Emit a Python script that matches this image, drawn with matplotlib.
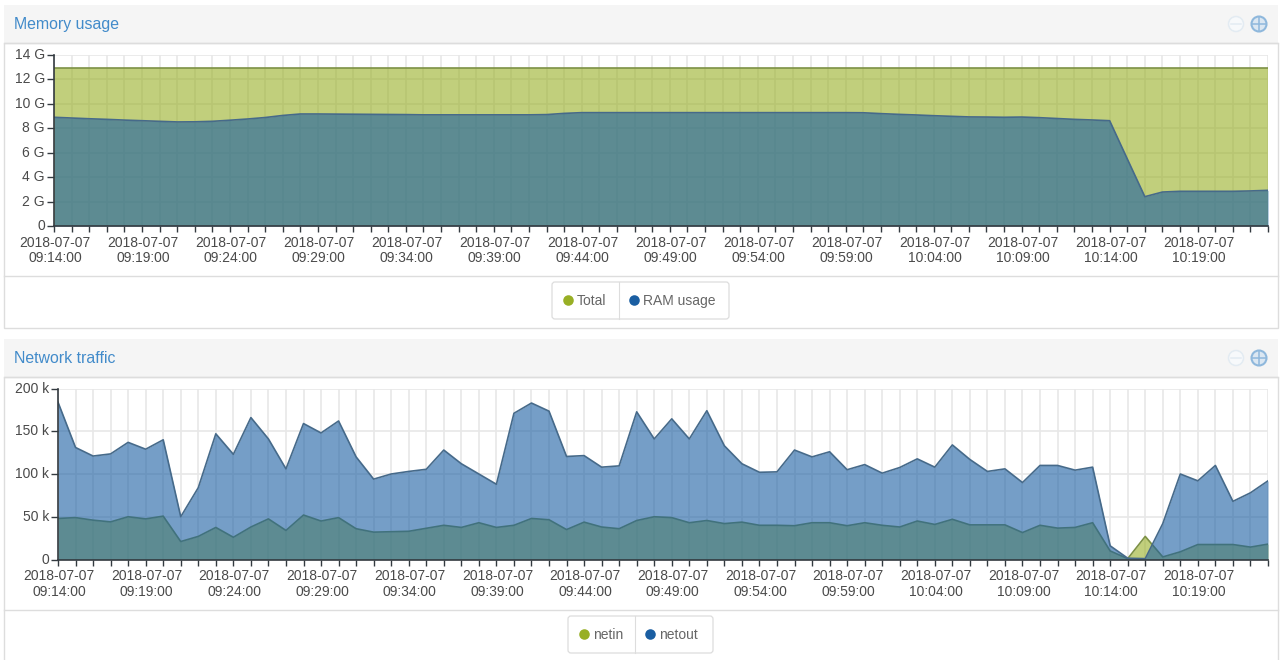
import matplotlib
matplotlib.use("Agg")
import matplotlib.pyplot as plt
from matplotlib.patches import Rectangle, FancyBboxPatch, Circle
from matplotlib.transforms import ScaledTranslation

plt.rcParams['font.family'] = ['Liberation Sans', 'DejaVu Sans']

# G, one value per minute from 09:14
mem_total = [12.94, 12.94, 12.94, 12.94, 12.94, 12.94, 12.94, 12.94, 12.94, 12.94,
             12.94, 12.94, 12.94, 12.94, 12.94, 12.94, 12.94, 12.94, 12.94, 12.94,
             12.94, 12.94, 12.94, 12.94, 12.94, 12.94, 12.94, 12.94, 12.94, 12.94,
             12.94, 12.94, 12.94, 12.94, 12.94, 12.94, 12.94, 12.94, 12.94, 12.94,
             12.94, 12.94, 12.94, 12.94, 12.94, 12.94, 12.94, 12.94, 12.94, 12.94,
             12.94, 12.94, 12.94, 12.94, 12.94, 12.94, 12.94, 12.94, 12.94, 12.94,
             12.94, 12.94, 12.94, 12.94, 12.94, 12.94, 12.94, 12.94, 12.94, 12.94]
mem_ram = [8.90, 8.84, 8.78, 8.73, 8.67, 8.62, 8.57, 8.52, 8.53, 8.57,
           8.66, 8.76, 8.88, 9.05, 9.17, 9.17, 9.16, 9.15, 9.14, 9.13,
           9.12, 9.10, 9.10, 9.10, 9.10, 9.10, 9.10, 9.10, 9.12, 9.22,
           9.28, 9.28, 9.28, 9.28, 9.28, 9.28, 9.28, 9.28, 9.28, 9.28,
           9.28, 9.28, 9.28, 9.28, 9.28, 9.28, 9.27, 9.20, 9.14, 9.09,
           9.03, 8.98, 8.93, 8.92, 8.90, 8.92, 8.87, 8.80, 8.73, 8.68,
           8.62, 5.50, 2.40, 2.78, 2.84, 2.84, 2.84, 2.84, 2.87, 2.92]

# k, one value per minute from 09:14
netin = [48, 49, 46, 44, 50, 47.5, 50.7, 21, 27, 37.5,
         26, 38, 47.5, 34, 52, 45, 49, 36, 32, 32.5,
         33, 36.5, 40, 37.5, 43, 37.5, 40, 48, 46.5, 35,
         43.7, 38, 36, 45.6, 50, 49, 43, 45.6, 42, 43.7,
         40, 40, 39.5, 43, 43, 39.5, 43, 40, 38, 45,
         41, 47, 40.5, 40.5, 40.5, 31.5, 40, 36.7, 37.5, 43,
         10, 1, 27, 3, 9, 17.5, 17.5, 17.5, 14.5, 18]
netout = [184, 131, 121, 123.5, 137, 129, 140, 50, 84, 147,
          123, 166, 141, 106, 159, 148, 162, 120, 94, 100,
          103, 105.5, 128, 112, 100, 88, 171, 183, 173.5, 120.5,
          121.5, 108, 109.5, 172.7, 141, 164.5, 141, 174, 133, 112,
          102, 102.5, 128, 120, 126, 105, 111, 101, 107.6, 117.7,
          108, 134, 117, 103, 106, 90, 110, 110, 104.5, 108,
          16, 1.5, 1, 42, 100, 92, 110, 68, 78, 92]

time_labels = ["09:14:00", "09:19:00", "09:24:00", "09:29:00", "09:34:00", "09:39:00", "09:44:00",
               "09:49:00", "09:54:00", "09:59:00", "10:04:00", "10:09:00", "10:14:00", "10:19:00"]
date_label = "2018-07-07"

mem_ticks = [0, 2, 4, 6, 8, 10, 12, 14]
mem_ticklabels = ["0", "2 G", "4 G", "6 G", "8 G", "10 G", "12 G", "14 G"]
net_ticks = [0, 50, 100, 150, 200]
net_ticklabels = ["0", "50 k", "100 k", "150 k", "200 k"]

GREEN = "#98af25"
BLUE = "#1a5ea2"
GREEN_LINE = "#7d9145"
BLUE_LINE = "#466a8a"
BORDER = "#dddddd"
TEXT = "#4a4a4a"

W, H = 1280, 660
fig = plt.figure(figsize=(W / 100, H / 100), dpi=100, facecolor="white")

# page chrome is drawn in pixel coordinates
bg = fig.add_axes([0, 0, 1, 1], zorder=0)
bg.set_xlim(0, W)
bg.set_ylim(H, 0)
bg.axis("off")


def panel(top, title, body_h, legend_h, names, box_x, divider):
    head = 38
    bg.add_patch(Rectangle((3.5, top), 1274, head, fc="#f5f5f5", ec="none"))
    bg.add_patch(Rectangle((3.5, top + head), 1274, body_h + legend_h, fc="white", ec=BORDER, lw=1))
    bg.plot([3.5, 1277.5], [top + head, top + head], color=BORDER, lw=1)
    bg.plot([3.5, 1277.5], [top + head + body_h, top + head + body_h], color=BORDER, lw=1)
    bg.text(14, top + 19.5, title, color="#428bca", fontsize=11.4, va="center", ha="left")

    # zoom buttons
    bg.add_patch(Circle((1236, top + 19), 7.5, fc="#f7f9fb", ec="#e3ebf2", lw=1.1))
    bg.plot([1231, 1241], [top + 19, top + 19], color="#e3ebf2", lw=1.1)
    bg.add_patch(Circle((1259, top + 19), 7.5, fc="#dbe7f2", ec="#8fb8dc", lw=1.5))
    bg.plot([1252, 1266], [top + 19, top + 19], color="#8fb8dc", lw=1.1)
    bg.plot([1259, 1259], [top + 12, top + 26], color="#8fb8dc", lw=1.1)

    # legend box
    ly = top + head + body_h + 6
    bg.add_patch(FancyBboxPatch((box_x[0], ly), box_x[1] - box_x[0], 37,
                                boxstyle="round,pad=0,rounding_size=3", fc="white", ec=BORDER, lw=0.9))
    bg.plot([divider, divider], [ly, ly + 37], color=BORDER, lw=0.8)
    bg.plot(box_x[0] + 15.5, ly + 17.5, "o", ms=7.6, color=GREEN, mew=0)
    bg.text(box_x[0] + 25, ly + 23, names[0], color="#666666", fontsize=10, va="baseline")
    bg.plot(divider + 14.5, ly + 17.5, "o", ms=7.6, color=BLUE, mew=0)
    bg.text(divider + 24, ly + 23, names[1], color="#666666", fontsize=10, va="baseline")


panel(5, "Memory usage", 233, 52, ["Total", "RAM usage"], (552, 729), 619)
panel(339, "Network traffic", 233, 52, ["netin", "netout"], (568, 713), 635)


def area_chart(rect, lower, upper, yticks, yticklabels, ymax):
    left, top, right, bottom = rect
    ax = fig.add_axes([left / W, 1 - bottom / H, (right - left) / W, (bottom - top) / H], zorder=2)
    ax.patch.set_alpha(0)
    x = list(range(len(lower)))
    ax.fill_between(x, lower, color=GREEN, alpha=0.6, lw=0, zorder=3)
    ax.plot(x, lower, color=GREEN_LINE, lw=1.2, zorder=3)
    ax.fill_between(x, upper, color=BLUE, alpha=0.6, lw=0, zorder=4)
    ax.plot(x, upper, color=BLUE_LINE, lw=1.2, zorder=4)

    ax.set_xlim(0, len(x) - 1)
    ax.set_ylim(0, ymax)
    ax.set_yticks(yticks)
    ax.set_yticklabels(yticklabels)
    labels = []
    for i in x:
        labels.append(date_label + "\n" + time_labels[i // 5] if i % 5 == 0 else "")
    ax.set_xticks(x)
    ax.set_xticklabels(labels, linespacing=1.12)

    ax.grid(True, color="#e8e8e8", lw=1.2, zorder=1)
    ax.set_axisbelow(True)
    for s in ["top", "right"]:
        ax.spines[s].set_visible(False)
    for s in ["left", "bottom"]:
        ax.spines[s].set_color("#333a40")
        ax.spines[s].set_linewidth(1.2)
        ax.spines[s].set_zorder(6)
    ax.tick_params(axis="x", length=4, width=1, color="#333a40", labelsize=10, labelcolor=TEXT, pad=3)
    ax.tick_params(axis="y", length=5, width=1, color="#333a40", labelsize=10, labelcolor=TEXT, pad=1.5)
    shift = ScaledTranslation(1 / 100, 0, fig.dpi_scale_trans)
    for lab in ax.get_xticklabels():
        lab.set_transform(lab.get_transform() + shift)
    for lab in ax.get_yticklabels():
        lab.set_verticalalignment("center")
    return ax


area_chart((54, 55, 1268, 226), mem_total, mem_ram, mem_ticks, mem_ticklabels, 14)
area_chart((58, 388.5, 1268, 559.5), netin, netout, net_ticks, net_ticklabels, 200)

fig.savefig("out.png", dpi=100)
